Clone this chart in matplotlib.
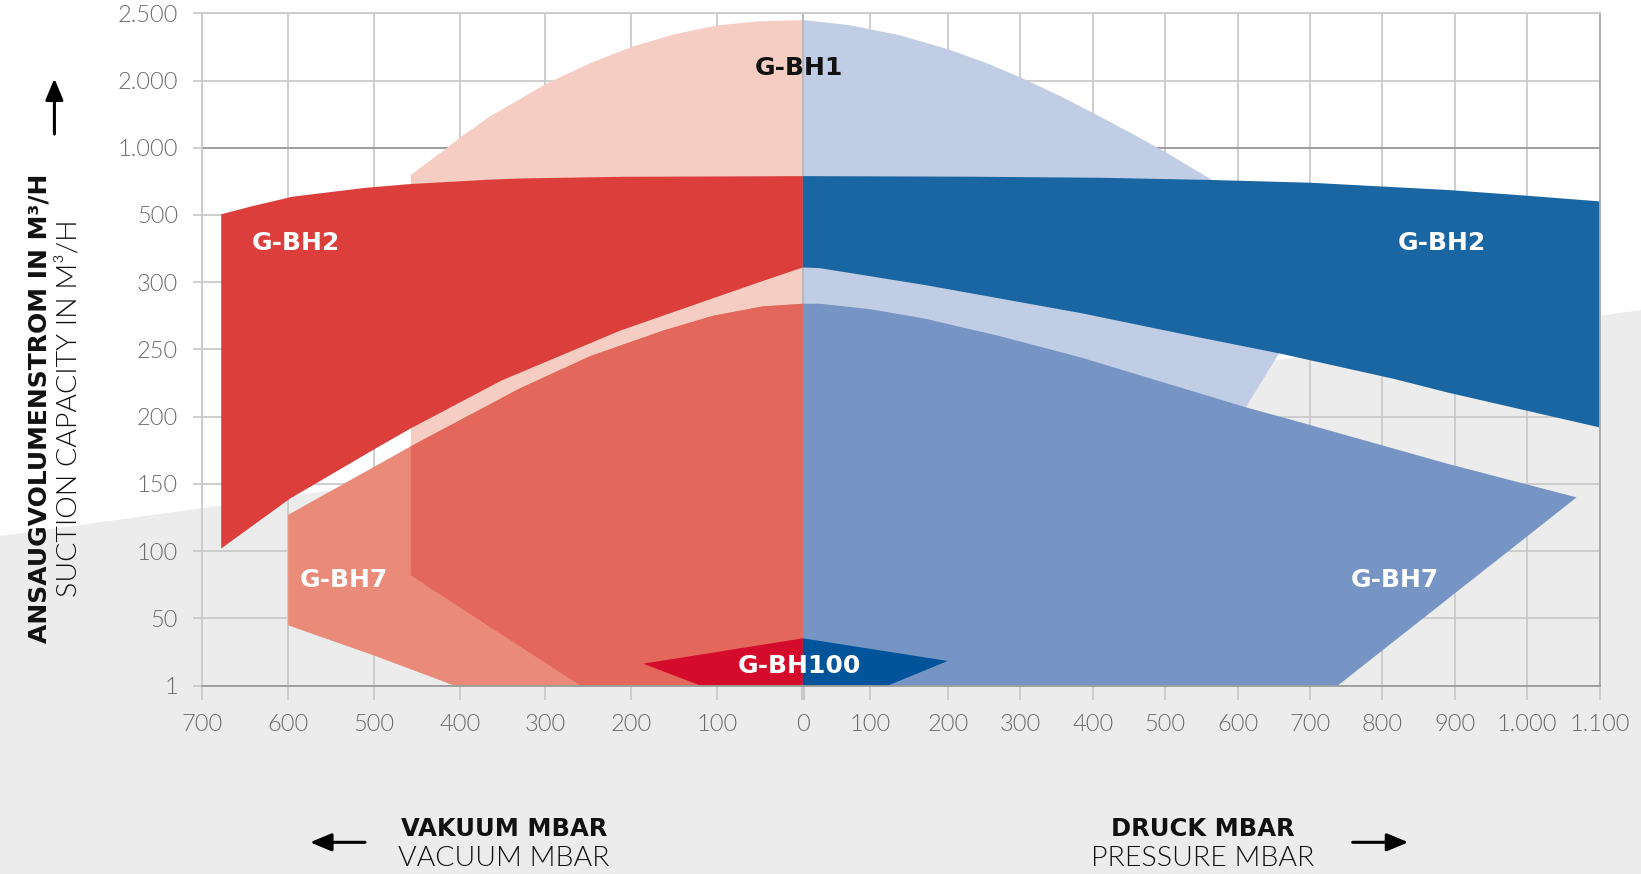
import numpy as np
import matplotlib
matplotlib.use("Agg")
import matplotlib.pyplot as plt
from matplotlib.patches import Polygon, FancyArrowPatch

plt.rcParams["font.family"] = ["DejaVu Sans"]

# axes ticks (vacuum is drawn on the negative side of x)
y_ticks = [1, 50, 100, 150, 200, 250, 300, 500, 1000, 2000, 2500]
y_labels = ["1", "50", "100", "150", "200", "250", "300", "500", "1.000", "2.000", "2.500"]
x_ticks = [-700, -600, -500, -400, -300, -200, -100, 0, 100, 200, 300, 400, 500,
           600, 700, 800, 900, 1000, 1100]
x_labels = ["700", "600", "500", "400", "300", "200", "100", "0", "100", "200", "300",
            "400", "500", "600", "700", "800", "900", "1.000", "1.100"]
# where each x tick sits on the printed (uneven) scale
x_spots = [0, 1, 2, 3, 4, 5, 6, 7, 7.78, 8.69, 9.535, 10.38, 11.225, 12.07,
           12.915, 13.755, 14.6, 15.445, 16.29]

# outlines, vacuum side in mbar vacuum, pressure side in mbar pressure, y in m3/h
bh1_vac_x = [259, 380, 457, 457, 423, 398, 365, 299, 248, 200, 151, 101, 54, 0, 0]
bh1_vac_y = [1, 50, 82, 798, 959, 1165, 1464, 1952, 2129, 2249, 2342, 2409, 2439, 2450, 1]
bh1_pre_x = [0, 70, 138, 200, 253, 300, 354, 400, 455, 500, 566, 650, 658, 611, 373, 0]
bh1_pre_y = [2450, 2411, 2337, 2233, 2130, 2024, 1773, 1520, 1205, 968, 756, 365, 248,
             207, 1, 1]

bh7_vac_x = [600, 499, 457, 330, 248, 163, 105, 47, 0, 0, 406, 500, 600]
bh7_vac_y = [127, 163, 178, 221, 245, 264, 275, 282, 284, 1, 1, 23, 45]
bh7_both_x = [457, 330, 248, 163, 105, 47, 0, 0, 259, 380, 457]   # part shared with G-BH1
bh7_both_y = [178, 221, 245, 264, 275, 282, 284, 1, 1, 50, 82]
bh7_pre_x = [0, 25, 100, 170, 271, 384, 611, 672, 890, 1068, 738, 0]
bh7_pre_y = [284, 284, 280, 273, 260, 244, 207, 198, 165, 140, 1, 1]

bh2_vac_x = [678, 644, 595, 510, 458, 365, 327, 210, 0, 0, 51, 213, 351, 458, 499, 598, 678]
bh2_vac_y = [505, 562, 636, 702, 730, 763, 772, 784, 789, 344, 300, 264, 227, 191, 176,
             139, 102]
bh2_pre_x = [0, 225, 409, 566, 700, 890, 998, 1100, 1100, 890, 817, 658, 528, 384, 170, 25, 0]
bh2_pre_y = [789, 785, 777, 760, 740, 686, 644, 601, 192, 218, 228, 247, 261, 277, 298,
             342, 344]

bh100_vac_x = [186, 0, 0, 119]
bh100_vac_y = [17, 35.5, 1, 1]
bh100_pre_x = [0, 200, 123, 0]
bh100_pre_y = [35.5, 19, 1, 1]


def vac(xs):
    return [-v for v in xs]


fig = plt.figure(figsize=(16.41, 8.74), dpi=100)
fig.patches.append(Polygon([[0, 0], [0, 0.3867], [1, 0.6453], [1, 0]], closed=True,
                           transform=fig.transFigure, facecolor="#ececec",
                           edgecolor="none", zorder=-10))

ax = fig.add_axes([0.1233, 0.2155, 0.8516, 0.7693])
ax.set_facecolor("none")
ax.set_xscale("function", functions=(lambda v: np.interp(v, x_ticks, x_spots),
                                     lambda p: np.interp(p, x_spots, x_ticks)))
y_spots = np.arange(len(y_ticks))
ax.set_yscale("function", functions=(lambda v: np.interp(v, y_ticks, y_spots),
                                     lambda p: np.interp(p, y_spots, y_ticks)))
ax.set_xlim(-700, 1100)
ax.set_ylim(1, 2500)

# shapes, back to front
ax.fill(vac(bh1_vac_x), bh1_vac_y, color="#f6cdc2", lw=0, zorder=1)
ax.fill(bh1_pre_x, bh1_pre_y, color="#c1cde4", lw=0, zorder=1)
ax.axvline(0, color="#b4b4b4", lw=1.2, zorder=1.5)
ax.fill(vac(bh7_vac_x), bh7_vac_y, color="#ea8a78", lw=0, zorder=2)
ax.fill(vac(bh7_both_x), bh7_both_y, color="#e3675a", lw=0, zorder=2)
ax.fill(bh7_pre_x, bh7_pre_y, color="#7695c4", lw=0, zorder=2)
ax.fill(vac(bh2_vac_x), bh2_vac_y, color="#dc3e3c", lw=0, zorder=2)
ax.fill(bh2_pre_x, bh2_pre_y, color="#1a66a3", lw=0, zorder=2)
ax.fill(vac(bh100_vac_x), bh100_vac_y, color="#d50b2b", lw=0, zorder=2)
ax.fill(bh100_pre_x, bh100_pre_y, color="#02549a", lw=0, zorder=2)

lab = dict(ha="center", va="center", fontsize=18, fontweight="bold", color="white", zorder=5)
ax.text(-4, 2093, "G-BH1", **{**lab, "color": "#111111"})
ax.text(-591, 416, "G-BH2", **lab)
ax.text(882, 416, "G-BH2", **lab)
ax.text(-535, 78.6, "G-BH7", **lab)
ax.text(817, 78.6, "G-BH7", **lab)
ax.text(-4, 15, "G-BH100", **lab)

# grid and ticks
grid_c = "#cacaca"
dark_c = "#9b9b9b"
ax.set_xticks(x_ticks, x_labels)
ax.set_yticks(y_ticks, y_labels)
ax.minorticks_off()
ax.set_axisbelow(True)
ax.grid(True, color=grid_c, lw=1.3)
ax.axhline(1000, color=dark_c, lw=1.3, zorder=0.6)
ax.tick_params(axis="y", length=6.5, width=1.3, color=grid_c, pad=11)
ax.tick_params(axis="x", length=10, width=1.3, color=grid_c, pad=10.5)
for t in (ax.yaxis.get_major_ticks()[0], ax.yaxis.get_major_ticks()[8]):
    t.tick1line.set_color(dark_c)
zero = ax.xaxis.get_major_ticks()[7].tick1line
zero.set_color("#8a8a8a")
zero.set_markeredgewidth(3)
for side, c in (("top", grid_c), ("left", grid_c), ("bottom", dark_c), ("right", "#a8a8a8")):
    ax.spines[side].set_color(c)
    ax.spines[side].set_linewidth(1.3)
for t in ax.get_xticklabels() + ax.get_yticklabels():
    t.set_fontfamily("Lato")
    t.set_fontweight(300)
    t.set_fontsize(17)
    t.set_color("#6b6b6b")

# axis titles
light = dict(fontfamily="Lato", fontweight=300, color="#111111")
fig.text(40 / 1641, 0.533, "ANSAUGVOLUMENSTROM IN M³/H", rotation=90, ha="center",
         va="center", fontsize=18, fontweight="bold", color="#111111")
fig.text(69 / 1641, 0.533, "SUCTION CAPACITY IN M³/H", rotation=90, ha="center",
         va="center", fontsize=20.5, **light)
for xc, bold, thin in ((504, "VAKUUM MBAR", "VACUUM MBAR"),
                       (1202.7, "DRUCK MBAR", "PRESSURE MBAR")):
    fig.text(xc / 1641, 1 - 836.5 / 874, bold, ha="center", va="baseline",
             fontsize=17.5, fontweight="bold", color="#111111")
    fig.text(xc / 1641, 1 - 866 / 874, thin, ha="center", va="baseline", fontsize=20.5, **light)

arrow = dict(transform=fig.transFigure, arrowstyle="-|>,head_length=0.65,head_width=0.27",
             mutation_scale=20, lw=2.2, color="black", shrinkA=0, shrinkB=0)
fig.add_artist(FancyArrowPatch((54.4 / 1641, 1 - 134 / 874), (54.4 / 1641, 1 - 78.5 / 874), **arrow))
fig.add_artist(FancyArrowPatch((365 / 1641, 1 - 842.3 / 874), (310 / 1641, 1 - 842.3 / 874), **arrow))
fig.add_artist(FancyArrowPatch((1352.7 / 1641, 1 - 842.3 / 874), (1408.3 / 1641, 1 - 842.3 / 874), **arrow))

fig.savefig("out.png", dpi=100)
